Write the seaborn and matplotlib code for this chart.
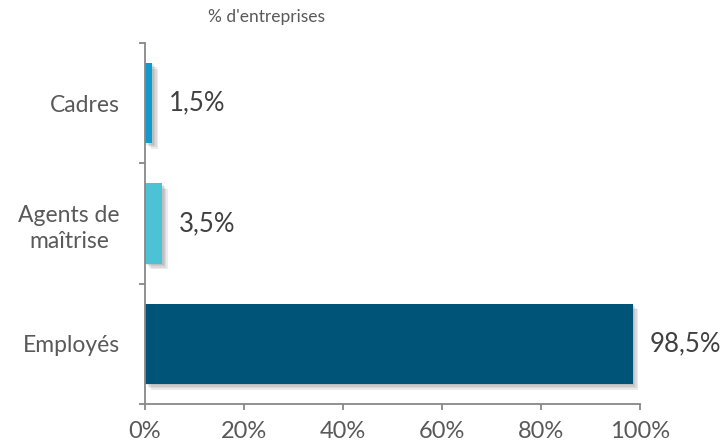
import pandas as pd
import numpy as np
import matplotlib
matplotlib.use('Agg')
import matplotlib.pyplot as plt
import matplotlib.patheffects as pe
from matplotlib.ticker import FixedLocator
import seaborn as sns

categories = ['Cadres', 'Agents de\nmaîtrise', 'Employés']
values = [1.5, 3.5, 98.5]
value_labels = ['1,5%', '3,5%', '98,5%']
bar_colors = ['#0f9bcd', '#4cc2d5', '#005477']
x_ticks = [0, 20, 40, 60, 80, 100]
x_tick_labels = ['0%', '20%', '40%', '60%', '80%', '100%']

sns.set_theme(style='white')
plt.rcParams['font.family'] = ['Lato', 'DejaVu Sans']

df = pd.DataFrame({'cat': categories, 'val': values})

fig = plt.figure(figsize=(7.26, 4.48), dpi=100)
ax = fig.add_axes([145/726, 1-404/448, (640-145)/726, (404-43)/448])

sns.barplot(data=df, y='cat', x='val', hue='cat', palette=bar_colors,
            orient='h', width=0.667, saturation=1, legend=False, ax=ax)

# soft drop shadow, built from a few faint layers
shadow = [pe.SimplePatchShadow(offset=(d, -d), shadow_rgbFace='#666666', alpha=0.13)
          for d in (4, 3, 2, 1)] + [pe.Normal()]
for p in ax.patches:
    p.set_path_effects(shadow)
    p.set_linewidth(0)

ax.set_xlim(0, 100)
ax.set_ylim(2.5, -0.5)
ax.set_xticks(x_ticks)
ax.set_xticklabels(x_tick_labels)
ax.yaxis.set_minor_locator(FixedLocator([-0.5, 0.5, 1.5, 2.5]))
ax.set_xlabel('')
ax.set_ylabel('')

gray = '#888888'
for s in ['top', 'right']:
    ax.spines[s].set_visible(False)
for s in ['left', 'bottom']:
    ax.spines[s].set_color(gray)
    ax.spines[s].set_linewidth(1.3)

ax.tick_params(axis='x', which='major', direction='out', length=4, width=1.3,
               color=gray, labelsize=17, labelcolor='#595959', pad=8, bottom=True)
ax.tick_params(axis='y', which='major', length=0, labelsize=16.5,
               labelcolor='#595959', pad=18)
ax.tick_params(axis='y', which='minor', direction='out', length=4, width=1.3,
               color=gray, left=True)
for t in ax.get_yticklabels():
    t.set_multialignment('center')
    t.set_linespacing(1.35)

for i, (v, lab) in enumerate(zip(values, value_labels)):
    ax.annotate(lab, xy=(v, i), xytext=(12, 0), textcoords='offset points',
                va='center', ha='left', fontsize=18.5, color='#404040')

fig.text(266/726, 1-17/448, "% d'entreprises", ha='center', va='center',
         fontsize=12.5, color='#595959')

fig.savefig('out.png', dpi=100)
